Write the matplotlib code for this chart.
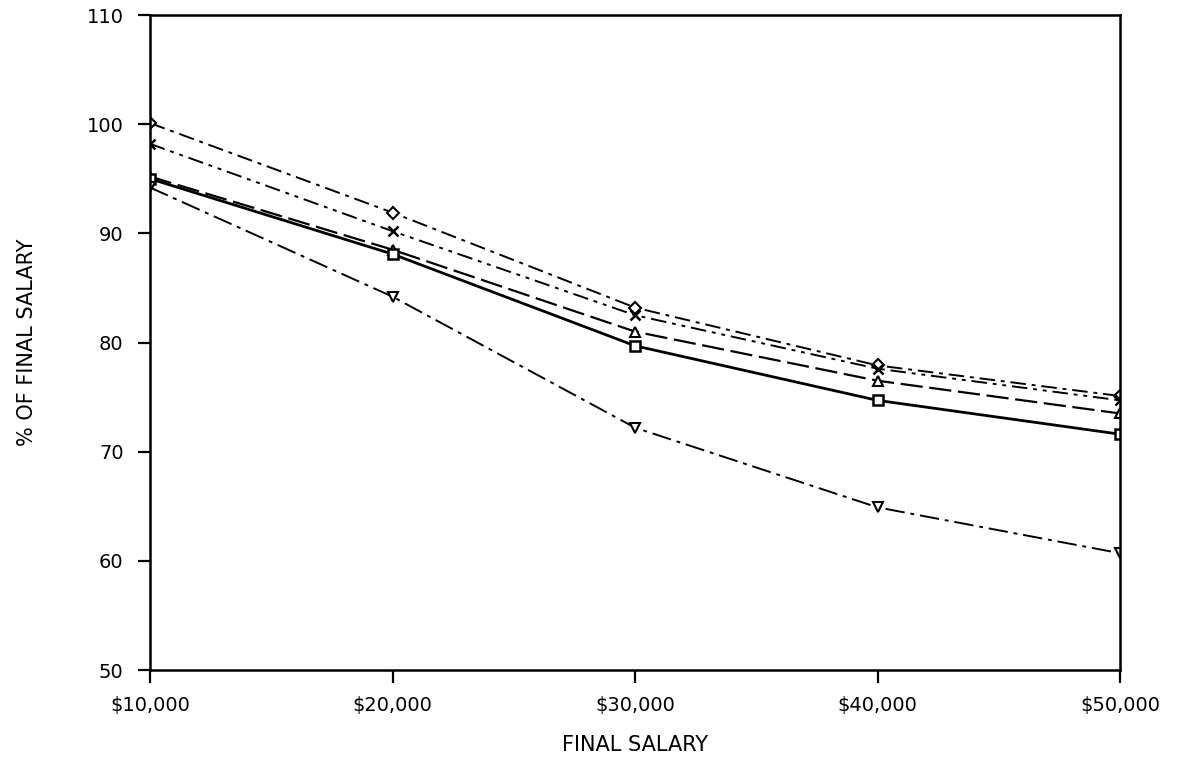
import numpy as np
import matplotlib
matplotlib.use("Agg")
import matplotlib.pyplot as plt

# =========================
# Data
# =========================
salaries = [10000, 20000, 30000, 40000, 50000]
salary_labels = ["$10,000", "$20,000", "$30,000", "$40,000", "$50,000"]

series_a = [100.1, 91.9, 83.2, 77.9, 75.1]   # diamond, dash-dot
series_b = [98.2, 90.2, 82.5, 77.6, 74.7]    # x, dash-dot-dot
series_c = [95.2, 88.5, 81.0, 76.5, 73.5]    # triangle up, dashed
series_d = [95.0, 88.1, 79.7, 74.7, 71.6]    # square, solid
series_e = [94.2, 84.2, 72.2, 64.9, 60.7]    # triangle down, dash-dot

y_ticks = [50, 60, 70, 80, 90, 100, 110]

# =========================
# Figure
# =========================
fig = plt.figure(figsize=(11.8, 7.61), dpi=100)
ax = fig.add_axes([150 / 1180, 1 - 670 / 761, 970 / 1180, 655 / 761])

ax.plot(salaries, series_a, color="black", lw=1.4, linestyle=(0, (8, 3, 2, 3)),
        marker="D", ms=6, mfc="white", mec="black", mew=1.5)
ax.plot(salaries, series_b, color="black", lw=1.4, linestyle=(0, (8, 3, 2, 3, 2, 3)),
        marker="x", ms=7, mew=1.8)
ax.plot(salaries, series_c, color="black", lw=1.6, linestyle=(0, (10, 3)),
        marker="^", ms=7, mfc="white", mec="black", mew=1.5)
ax.plot(salaries, series_d, color="black", lw=2.0, linestyle="-",
        marker="s", ms=7, mfc="white", mec="black", mew=1.8)
ax.plot(salaries, series_e, color="black", lw=1.4, linestyle=(0, (10, 3, 2, 3)),
        marker="v", ms=7, mfc="white", mec="black", mew=1.5)

ax.set_xlim(10000, 50000)
ax.set_ylim(50, 110)
ax.set_xticks(salaries)
ax.set_xticklabels(salary_labels)
ax.set_yticks(y_ticks)

for s in ax.spines.values():
    s.set_linewidth(1.8)
    s.set_color("black")

ax.tick_params(axis="both", direction="out", length=9, width=1.6,
               labelsize=14, colors="black")
ax.tick_params(axis="x", pad=10)
ax.tick_params(axis="y", pad=10)

ax.set_xlabel("FINAL SALARY", fontsize=15, labelpad=14)
fig.text(27 / 1180, 1 - 342 / 761, "% OF FINAL SALARY", fontsize=15,
         rotation=90, ha="center", va="center")

fig.savefig("out.png", dpi=100)
